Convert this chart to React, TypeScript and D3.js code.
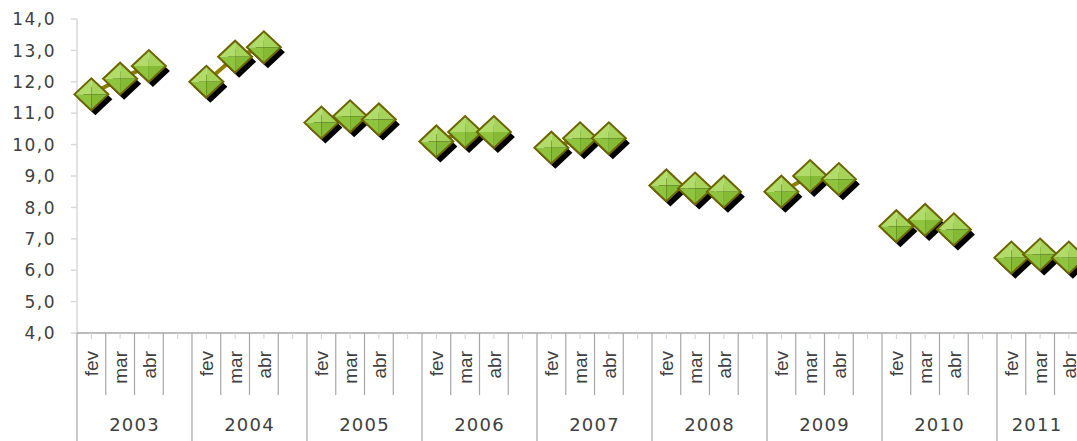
import React, { useEffect } from 'react';
import * as d3 from 'd3';

// Values
const years = ['2003', '2004', '2005', '2006', '2007', '2008', '2009', '2010', '2011'];
const months = ['fev', 'mar', 'abr'];
const values2003 = [11.6, 12.1, 12.5];
const values2004 = [12.0, 12.8, 13.1];
const values2005 = [10.7, 10.9, 10.8];
const values2006 = [10.1, 10.4, 10.4];
const values2007 = [9.9, 10.2, 10.2];
const values2008 = [8.7, 8.6, 8.5];
const values2009 = [8.5, 9.0, 8.9];
const values2010 = [7.4, 7.6, 7.3];
const values2011 = [6.4, 6.5, 6.4];
const valuesByYear = [values2003, values2004, values2005, values2006, values2007, values2008, values2009, values2010, values2011];
const yTicks = [4, 5, 6, 7, 8, 9, 10, 11, 12, 13, 14];

const width = 1077;
const height = 441;
const left = 77;
const yearWidth = 115;
const top = 19;
const axisY = 333;

const fmt = d3.formatLocale({ decimal: ',', thousands: '.', grouping: [3], currency: ['R$', ''] }).format('.1f');

// each year has the three months plus one empty slot
const slots = [...months, ''];
const categories: string[] = [];
years.forEach((y) => slots.forEach((s, i) => categories.push(`${y}|${i}`)));

export default function App() {
    useEffect(() => {
        document.body.style.margin = '0';
    }, []);

    const x = d3
        .scaleBand<string>()
        .domain(categories)
        .range([left, left + yearWidth * years.length]);
    const y = d3.scaleLinear().domain([4, 14]).range([axisY, top]);

    const line = d3
        .line<{ key: string; v: number }>()
        .x((d) => x(d.key)! + x.bandwidth() / 2)
        .y((d) => y(d.v));

    const w = 17;
    const h = 16;
    const facets = [
        { pts: [[-w, 0], [0, -h], [0, 0]], fill: '#b2dc6a' },
        { pts: [[0, -h], [w, 0], [0, 0]], fill: '#a6d45a' },
        { pts: [[w, 0], [0, h], [0, 0]], fill: '#84ba34' },
        { pts: [[0, h], [-w, 0], [0, 0]], fill: '#8fc43f' },
    ];
    const diamond = `M${-w},0L0,${-h}L${w},0L0,${h}Z`;

    const points = years.map((yr, yi) =>
        valuesByYear[yi].map((v, mi) => ({ key: `${yr}|${mi}`, v }))
    );

    return (
        <svg width={width} height={height} style={{ display: 'block', background: '#fff' }}>
            {/* y axis */}
            <line x1={left} x2={left} y1={top} y2={axisY} stroke="#d9d9d9" strokeWidth={1.5} />
            {yTicks.map((t) => (
                <g key={t}>
                    <line x1={left - 6} x2={left} y1={y(t)} y2={y(t)} stroke="#d9d9d9" strokeWidth={1.5} />
                    <text
                        x={56}
                        y={y(t)}
                        dy="0.36em"
                        textAnchor="end"
                        fontFamily="DejaVu Sans, Verdana, sans-serif"
                        fontSize={17}
                        letterSpacing={1.5}
                        fill="#404040"
                    >
                        {fmt(t)}
                    </text>
                </g>
            ))}

            {/* x axis */}
            <line x1={left} x2={width} y1={axisY} y2={axisY} stroke="#a6a6a6" strokeWidth={1.5} />
            {categories.map((c) => {
                const i = +c.split('|')[1];
                const x0 = x(c)!;
                const cx = x0 + x.bandwidth() / 2;
                return (
                    <g key={c}>
                        <line x1={cx} x2={cx} y1={axisY} y2={axisY + 6} stroke="#d0d0d0" strokeWidth={1} />
                        {i > 0 && (
                            <line x1={x0} x2={x0} y1={axisY} y2={395} stroke="#a6a6a6" strokeWidth={1.2} />
                        )}
                        {slots[i] && (
                            <text
                                transform={`translate(${cx},351) rotate(-90)`}
                                dy="0.36em"
                                textAnchor="end"
                                fontFamily="Liberation Sans, Arial, sans-serif"
                                fontSize={19}
                                fill="#404040"
                            >
                                {slots[i]}
                            </text>
                        )}
                    </g>
                );
            })}
            {years.map((yr, yi) => {
                const x0 = left + yi * yearWidth;
                // centre the label on the visible part of the year band
                const x1 = Math.min(x0 + yearWidth, width);
                return (
                    <g key={yr}>
                        <line x1={x0} x2={x0} y1={axisY} y2={height} stroke="#a6a6a6" strokeWidth={1.2} />
                        <text
                            x={(x0 + x1) / 2}
                            y={431}
                            textAnchor="middle"
                            fontFamily="DejaVu Sans, Verdana, sans-serif"
                            fontSize={18}
                            letterSpacing={1.2}
                            fill="#404040"
                        >
                            {yr}
                        </text>
                    </g>
                );
            })}

            {/* connecting lines inside each year */}
            {points.map((pts, i) => (
                <path key={i} d={line(pts)!} fill="none" stroke="#8c7e00" strokeWidth={4} />
            ))}

            {/* markers */}
            {points.flat().map((p) => {
                const cx = x(p.key)! + x.bandwidth() / 2;
                const cy = y(p.v);
                return (
                    <g key={p.key} transform={`translate(${cx},${cy})`}>
                        <path d={diamond} transform="translate(4,5)" fill="#000" />
                        {facets.map((f, k) => (
                            <polygon key={k} points={f.pts.map((q) => q.join(',')).join(' ')} fill={f.fill} />
                        ))}
                        <path d={diamond} fill="none" stroke="#6b6400" strokeWidth={2} strokeLinejoin="miter" />
                    </g>
                );
            })}
        </svg>
    );
}
